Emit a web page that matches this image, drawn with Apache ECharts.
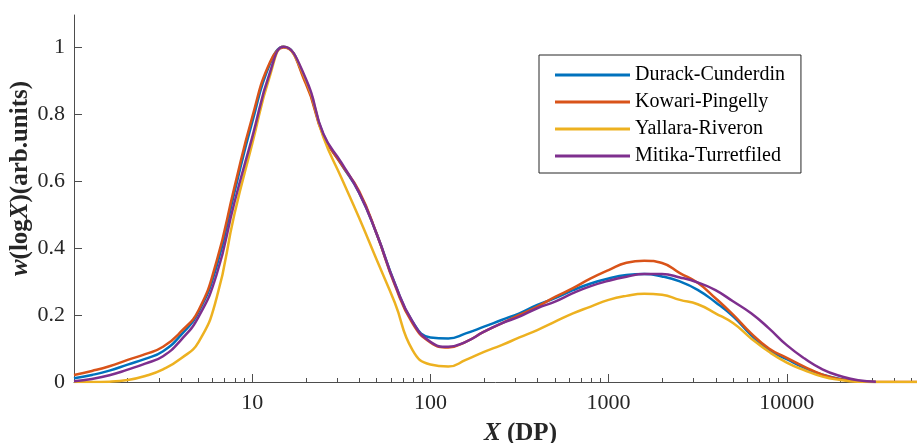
<!DOCTYPE html>
<html><head><meta charset="utf-8">
<script src="https://cdn.jsdelivr.net/npm/echarts@6/dist/echarts.min.js"></script>
<style>html,body{margin:0;padding:0;background:#fff}#c{width:917px;height:443px}</style>
</head><body><div id="c"></div>
<script>
// Degree of polymerisation (x values, log axis)
const dp = [1, 1.26, 1.58, 2, 2.51, 3.16, 3.98, 5.01, 6.31, 7.94, 10, 12.6, 15, 20, 25.1, 31.6, 39.8, 50.1, 63.1, 79.4, 100, 126, 158, 200, 251, 316, 398, 501, 631, 794, 1000, 1259, 1585, 1995, 2512, 3162, 3981, 5012, 6310, 7943, 10000, 12589, 15849, 19953, 25119, 31623, 39811, 50119, 53800];

const seriesNames = ['Durack-Cunderdin', 'Kowari-Pingelly', 'Yallara-Riveron', 'Mitika-Turretfiled'];

const durack = [0.011, 0.021, 0.034, 0.052, 0.069, 0.092, 0.140, 0.210, 0.345, 0.565, 0.775, 0.950, 1.0, 0.895, 0.738, 0.650, 0.565, 0.440, 0.295, 0.180, 0.133, 0.130, 0.145, 0.165, 0.185, 0.205, 0.230, 0.250, 0.274, 0.294, 0.309, 0.319, 0.322, 0.315, 0.300, 0.275, 0.238, 0.195, 0.140, 0.095, 0.068, 0.042, 0.022, 0.009, 0.003, 0, null, null, null];

const kowari = [0.021, 0.033, 0.047, 0.066, 0.083, 0.105, 0.150, 0.215, 0.360, 0.580, 0.790, 0.955, 0.998, 0.890, 0.735, 0.650, 0.570, 0.440, 0.290, 0.175, 0.118, 0.103, 0.120, 0.150, 0.175, 0.200, 0.225, 0.254, 0.280, 0.309, 0.334, 0.356, 0.362, 0.355, 0.325, 0.296, 0.250, 0.200, 0.145, 0.100, 0.072, 0.045, 0.022, 0.008, 0.002, 0, 0, 0, 0];

const yallara = [0, 0, 0.001, 0.006, 0.018, 0.038, 0.070, 0.120, 0.250, 0.500, 0.710, 0.915, 1.0, 0.900, 0.730, 0.610, 0.490, 0.363, 0.237, 0.095, 0.052, 0.046, 0.066, 0.090, 0.110, 0.133, 0.155, 0.180, 0.205, 0.225, 0.245, 0.257, 0.263, 0.260, 0.245, 0.232, 0.205, 0.175, 0.130, 0.090, 0.058, 0.035, 0.016, 0.006, 0.001, 0, 0, 0, 0];

const mitika = [0.002, 0.009, 0.020, 0.037, 0.055, 0.077, 0.125, 0.195, 0.320, 0.535, 0.730, 0.925, 1.0, 0.905, 0.740, 0.655, 0.565, 0.440, 0.294, 0.180, 0.120, 0.105, 0.120, 0.150, 0.175, 0.195, 0.220, 0.240, 0.265, 0.286, 0.302, 0.314, 0.322, 0.322, 0.312, 0.297, 0.274, 0.240, 0.205, 0.160, 0.110, 0.070, 0.038, 0.018, 0.005, 0.001, null, null, null];

const xMajorTicks = [10, 100, 1000, 10000];
const xTickLabels = ['10', '100', '1000', '10000'];
const xMinorTicks = [2, 3, 4, 5, 6, 7, 8, 9, 20, 30, 40, 50, 60, 70, 80, 90, 200, 300, 400, 500, 600, 700, 800, 900, 2000, 3000, 4000, 5000, 6000, 7000, 8000, 9000, 20000, 30000, 40000, 50000];
const yTicks = [0, 0.2, 0.4, 0.6, 0.8, 1];
const yTickLabels = ['0', '0.2', '0.4', '0.6', '0.8', '1'];

const colors = ['#0072BD', '#D95319', '#EDB120', '#7E2F8E'];
const FONT = 'Liberation Serif';
const AXIS_COLOR = '#4d4d4d';

function toPairs(vals) {
  const out = [];
  vals.forEach((v, i) => { if (v !== null) out.push([dp[i], v]); });
  return out;
}

const chart = echarts.init(document.getElementById('c'), null, {renderer: 'canvas'});
const allVals = [durack, kowari, yallara, mitika];

chart.setOption({
  animation: false,
  backgroundColor: '#fff',
  color: colors,
  grid: {left: 74, right: 0, top: 15, bottom: 61, containLabel: false, outerBoundsMode: 'none'},
  legend: {
    orient: 'vertical',
    left: 539, top: 55,
    padding: [10, 16, 7, 16],
    itemGap: 7,
    itemWidth: 75, itemHeight: 3,
    icon: 'rect',
    borderColor: '#262626', borderWidth: 1,
    backgroundColor: '#fff',
    textStyle: {fontFamily: FONT, fontSize: 20, color: '#000'},
    data: seriesNames
  },
  xAxis: [{
    type: 'log', logBase: 10, min: 1, max: 53800, position: 'bottom',
    axisLine: {lineStyle: {color: AXIS_COLOR, width: 1}},
    axisTick: {inside: true, length: 8, customValues: xMajorTicks, lineStyle: {color: AXIS_COLOR}},
    axisLabel: {
      customValues: xMajorTicks, margin: 10,
      fontFamily: FONT, fontSize: 22, color: '#262626',
      formatter: v => { const i = xMajorTicks.findIndex(t => Math.abs(t - v) < 1e-6 * t); return i >= 0 ? xTickLabels[i] : ''; }
    },
    splitLine: {show: false},
    name: '{i|X} (DP)',
    nameLocation: 'middle', nameGap: 39, nameMoveOverlap: false,
    nameTextStyle: {
      fontFamily: FONT, fontWeight: 'bold', fontSize: 25, color: '#262626',
      padding: [0, 0, 0, 50],
      rich: {i: {fontFamily: FONT, fontWeight: 'bold', fontStyle: 'italic', fontSize: 25, color: '#262626'}}
    }
  }, {
    type: 'log', logBase: 10, min: 1, max: 53800, position: 'bottom',
    axisLine: {show: false},
    axisTick: {inside: true, length: 4, customValues: xMinorTicks, lineStyle: {color: AXIS_COLOR}},
    axisLabel: {show: false},
    splitLine: {show: false}
  }],
  yAxis: {
    type: 'value', min: 0, max: 1.095,
    axisLine: {show: true, lineStyle: {color: AXIS_COLOR, width: 1}},
    axisTick: {show: true, inside: true, length: 8, customValues: yTicks, lineStyle: {color: AXIS_COLOR}},
    axisLabel: {
      customValues: yTicks, margin: 9,
      fontFamily: FONT, fontSize: 22, color: '#262626',
      formatter: v => { const i = yTicks.findIndex(t => Math.abs(t - v) < 1e-9); return i >= 0 ? yTickLabels[i] : ''; }
    },
    splitLine: {show: false},
    name: '{i|w}(log{i|X})(arb.units)',
    nameLocation: 'middle', nameGap: 41, nameMoveOverlap: false,
    nameTextStyle: {
      fontFamily: FONT, fontWeight: 'bold', fontSize: 25, color: '#262626',
      padding: [0, 0, 0, 40],
      rich: {i: {fontFamily: FONT, fontWeight: 'bold', fontStyle: 'italic', fontSize: 25, color: '#262626'}}
    }
  },
  series: seriesNames.map((name, k) => ({
    name: name, type: 'line',
    xAxisIndex: 0, yAxisIndex: 0,
    data: toPairs(allVals[k]),
    showSymbol: false, symbol: 'none',
    smooth: 0.5,
    lineStyle: {width: 2.5, color: colors[k]},
    itemStyle: {color: colors[k]}
  }))
});
</script>
</body></html>
